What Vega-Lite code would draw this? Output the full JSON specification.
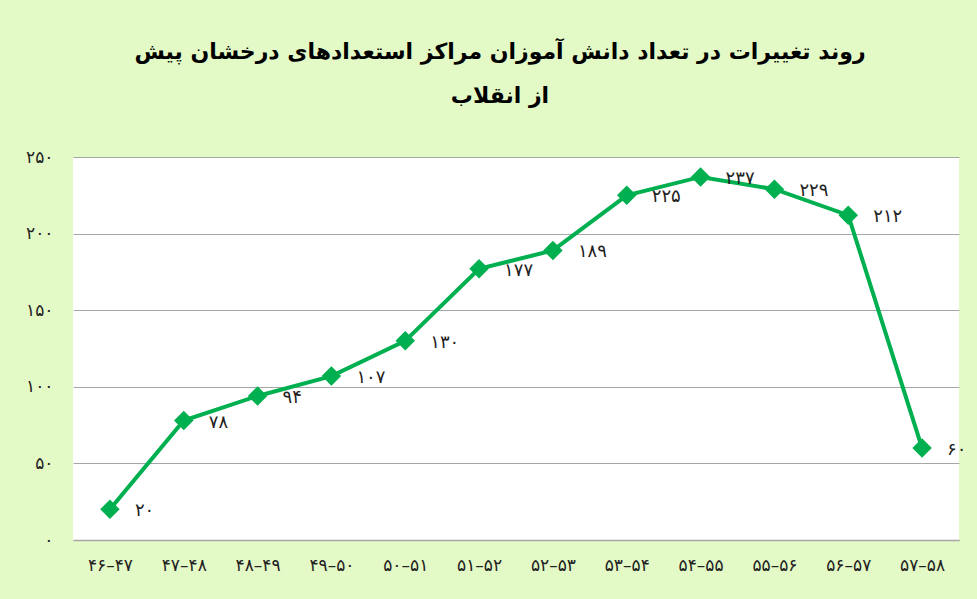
{
  "$schema": "https://vega.github.io/schema/vega-lite/v6.json",
  "autosize": {"type": "none"},
  "width": 886,
  "height": 383,
  "padding": {"left": 73, "top": 157, "right": 18, "bottom": 59},
  "background": "#e4fac6",
  "title": {
    "text": ["روند تغییرات در تعداد دانش آموزان مراکز استعدادهای درخشان پیش", "از انقلاب"],
    "font": "DejaVu Sans",
    "fontSize": 22,
    "fontWeight": "bold",
    "color": "#000000",
    "lineHeight": 44,
    "anchor": "middle",
    "offset": 40,
    "dx": -16
  },
  "data": {
    "values": [
      {"period": "۴۶–۴۷", "value": 20, "label": "۲۰"},
      {"period": "۴۷–۴۸", "value": 78, "label": "۷۸"},
      {"period": "۴۸–۴۹", "value": 94, "label": "۹۴"},
      {"period": "۴۹–۵۰", "value": 107, "label": "۱۰۷"},
      {"period": "۵۰–۵۱", "value": 130, "label": "۱۳۰"},
      {"period": "۵۱–۵۲", "value": 177, "label": "۱۷۷"},
      {"period": "۵۲–۵۳", "value": 189, "label": "۱۸۹"},
      {"period": "۵۳–۵۴", "value": 225, "label": "۲۲۵"},
      {"period": "۵۴–۵۵", "value": 237, "label": "۲۳۷"},
      {"period": "۵۵–۵۶", "value": 229, "label": "۲۲۹"},
      {"period": "۵۶–۵۷", "value": 212, "label": "۲۱۲"},
      {"period": "۵۷–۵۸", "value": 60, "label": "۶۰"}
    ]
  },
  "encoding": {
    "x": {
      "field": "period",
      "type": "ordinal",
      "sort": null,
      "scale": {"type": "point", "padding": 0.5},
      "axis": {
        "title": null,
        "labelAngle": 0,
        "ticks": false,
        "domain": true,
        "domainColor": "#a6a6a6",
        "domainWidth": 1.5,
        "labelPadding": 17,
        "labelFont": "DejaVu Sans",
        "labelFontSize": 17,
        "labelColor": "#222222",
        "grid": false
      }
    },
    "y": {
      "field": "value",
      "type": "quantitative",
      "scale": {"domain": [0, 250]},
      "axis": {
        "title": null,
        "values": [0, 50, 100, 150, 200, 250],
        "labelExpr": "replace(replace(replace(replace(replace(datum.label, /0/g, '۰'), /1/g, '۱'), /2/g, '۲'), /5/g, '۵'), /,/g, '')",
        "ticks": false,
        "domain": false,
        "grid": true,
        "gridColor": "#a6a6a6",
        "gridWidth": 1,
        "labelPadding": 20,
        "labelFont": "DejaVu Sans",
        "labelFontSize": 17,
        "labelColor": "#222222"
      }
    }
  },
  "layer": [
    {
      "mark": {"type": "line", "color": "#00b050", "strokeWidth": 4}
    },
    {
      "mark": {"type": "point", "shape": "diamond", "filled": true, "size": 380, "color": "#00b050", "opacity": 1}
    },
    {
      "mark": {"type": "text", "align": "left", "baseline": "middle", "dx": 25, "dy": 2, "font": "DejaVu Sans", "fontSize": 18, "color": "#222222"},
      "encoding": {"text": {"field": "label"}}
    }
  ],
  "config": {
    "view": {"fill": "#ffffff", "stroke": null}
  }
}
